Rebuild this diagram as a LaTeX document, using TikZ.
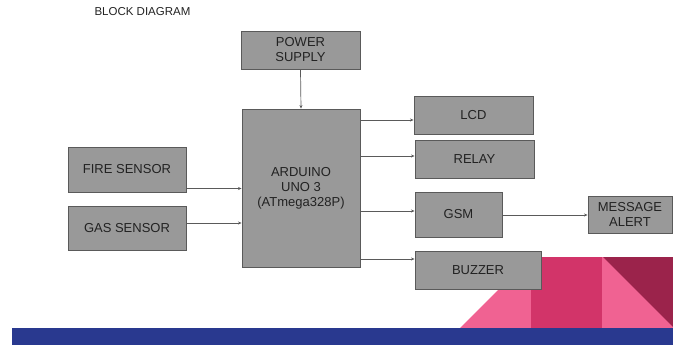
\documentclass[tikz,border=0pt]{standalone}
\usepackage{fontspec}
\setmainfont{Liberation Sans}
\usetikzlibrary{arrows.meta}
\definecolor{boxfill}{HTML}{999999}
\definecolor{boxline}{HTML}{5A5A5A}
\definecolor{lpink}{HTML}{F06292}
\definecolor{dpink}{HTML}{D23469}
\definecolor{maroon}{HTML}{9B234B}
\definecolor{bar}{HTML}{29398F}
\definecolor{txt}{HTML}{222222}
\tikzset{
  blk/.style={draw=boxline, fill=boxfill, line width=0.9pt, inner sep=0pt,
    font=\fontsize{13}{15}\selectfont, text=txt, align=center},
  arr/.style={draw=boxline, line width=0.7pt, -{Stealth[length=3.5pt,width=3pt]}}
}
\begin{document}
\begin{tikzpicture}[x=1pt,y=-1pt]
\useasboundingbox (0,0) rectangle (673,345);
% decoration
\fill[lpink] (460,328) -- (531,257) -- (673,257) -- (673,328) -- cycle;
\fill[dpink] (531,257) rectangle (602,328);
\fill[maroon] (603,257) -- (673,257) -- (673,327) -- cycle;
\fill[bar] (12,328) rectangle (673,345);
% title
\node[font=\fontsize{11.5}{13}\selectfont, text=txt, anchor=west] (title) at (91,12) {BLOCK DIAGRAM};
% boxes
\node[blk, minimum width=119pt, minimum height=38pt] (power) at (300.5,50) {POWER\\SUPPLY};
\node[blk, minimum width=118pt, minimum height=158pt] (ard) at (301,188) {ARDUINO\\UNO 3\\(ATmega328P)};
\node[blk, minimum width=119pt, minimum height=38pt] (lcd) at (473.5,115) {LCD};
\node[blk, minimum width=119pt, minimum height=38pt] (relay) at (474.5,159) {RELAY};
\node[blk, minimum width=87pt, minimum height=45pt] (gsm) at (458.5,214.5) {GSM};
\node[blk, minimum width=84pt, minimum height=37pt] (msg) at (630,214.5) {MESSAGE\\ALERT};
\node[blk, minimum width=126pt, minimum height=38pt] (buzzer) at (478,270) {BUZZER};
\node[blk, minimum width=118pt, minimum height=45pt] (fire) at (127,169.5) {FIRE SENSOR};
\node[blk, minimum width=118pt, minimum height=44pt] (gas) at (127,228) {GAS SENSOR};
% connectors
\draw[arr] (power.south) -- (ard.north);
\draw[arr] (fire.east |- 0,188.5) -- (ard.west |- 0,188.5);
\draw[arr] (gas.east |- 0,223) -- (ard.west |- 0,223);
\draw[arr] (ard.east |- 0,120) -- (lcd.west |- 0,120);
\draw[arr] (ard.east |- 0,156) -- (relay.west |- 0,156);
\draw[arr] (ard.east |- 0,211) -- (gsm.west |- 0,211);
\draw[arr] (ard.east |- 0,259) -- (buzzer.west |- 0,259);
\draw[arr] (gsm.east |- 0,215) -- (msg.west |- 0,215);
\end{tikzpicture}
\end{document}
